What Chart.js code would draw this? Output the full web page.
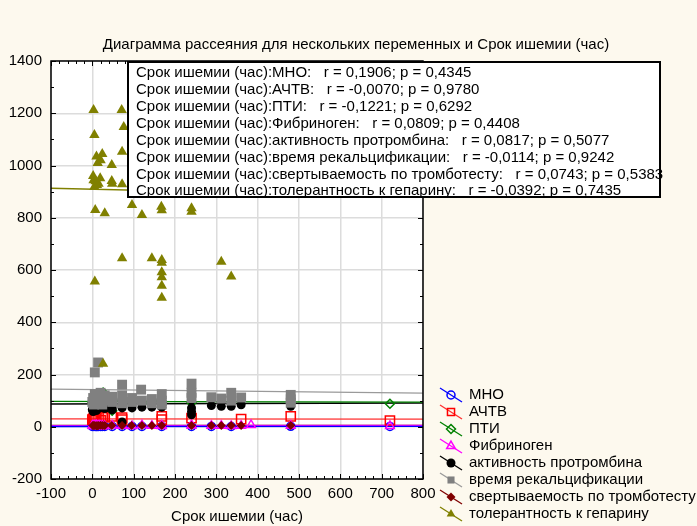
<!DOCTYPE html>
<html>
<head>
<meta charset="utf-8">
<script src="https://cdn.jsdelivr.net/npm/chart.js@4.4.1/dist/chart.umd.min.js"></script>
<style>
  html, body { margin: 0; padding: 0; background: #fdf9ee; }
  #wrap { width: 697px; height: 526px; }
</style>
</head>
<body>
<div id="wrap"><canvas id="chart" width="697" height="526"></canvas></div>
<script>
// --- data ---
const chartTitle = 'Диаграмма рассеяния для нескольких переменных и Срок ишемии (час)';
const xAxisTitle = 'Срок ишемии (час)';
const xTickValues = [-100, 0, 100, 200, 300, 400, 500, 600, 700, 800];
const yTickValues = [-200, 0, 200, 400, 600, 800, 1000, 1200, 1400];

const seriesNames = ['МНО', 'АЧТВ', 'ПТИ', 'Фибриноген', 'активность протромбина',
  'время рекальцификации', 'свертываемость по тромботесту', 'толерантность к гепарину'];
const rValues = ['0,1906', '-0,0070', '-0,1221', '0,0809', '0,0817', '-0,0114', '0,0743', '-0,0392'];
const pValues = ['0,4345', '0,9780', '0,6292', '0,4408', '0,5077', '0,9242', '0,5383', '0,7435'];

const mnoX = [0, 4, 8, 10, 12, 15, 20, 24, 30, 48, 72, 96, 120, 168, 240, 288, 336, 480, 720];
const mnoY = [1.1, 1.2, 1.0, 1.2, 1.3, 1.0, 1.1, 1.2, 1.0, 1.1, 1.4, 1.2, 1.1, 1.3, 1.2, 1.1, 1.0, 1.5, 1.3];

const achtvX = [0, 2, 4, 6, 10, 15, 20, 26, 30, 47, 72, 72, 168, 168, 240, 360, 480, 720];
const achtvY = [27, 30, 34, 27, 33, 38, 25, 40, 36, 40, 27, 35, 40, 27, 33, 29, 40, 24];

const ptiX = [0, 2, 5, 8, 10, 15, 20, 24, 26, 30, 48, 72, 96, 120, 144, 168, 240, 720];
const ptiY = [95, 85, 100, 102, 90, 105, 98, 92, 131, 96, 61, 100, 95, 90, 100, 95, 92, 88];

const fibX = [0, 2, 4, 6, 8, 10, 12, 15, 18, 20, 24, 24, 30, 48, 72, 72, 96, 120, 144, 168, 168, 240, 240, 288, 312, 336, 360, 384, 480, 720];
const fibY = [4, 3, 5, 3, 4, 6, 3, 4, 5, 3, 4, 2, 3, 5, 4, 5, 3, 6, 4, 5, 3, 5, 6, 4, 4, 3, 4, 7, 4, 3];

const protX = [0, 2, 4, 6, 8, 10, 12, 15, 18, 20, 24, 30, 48, 48, 72, 72, 72, 96, 120, 144, 168, 168, 240, 240, 240, 288, 312, 336, 360, 480, 480];
const protY = [65, 58, 75, 70, 80, 62, 85, 78, 72, 88, 75, 70, 72, 65, 72, 80, 18, 72, 75, 75, 75, 82, 72, 58, 46, 81, 78, 78, 84, 84, 78];

const recalX = [6, 14, 0, 2, 4, 6, 8, 10, 12, 15, 18, 20, 24, 24, 30, 30, 48, 48, 72, 72, 72, 96, 96, 118, 120, 144, 144, 168, 168, 168, 240, 240, 240, 288, 312, 336, 336, 360, 480, 480, 480];
const recalY = [208, 246, 95, 110, 85, 125, 100, 90, 118, 105, 95, 130, 110, 85, 100, 120, 95, 115, 161, 120, 90, 110, 95, 142, 100, 106, 90, 125, 100, 85, 165, 130, 110, 113, 108, 130, 100, 112, 122, 105, 92];

const trombX = [1, 3, 6, 10, 12, 15, 20, 25, 30, 47, 72, 95, 120, 144, 168, 240, 288, 312, 336, 360, 480];
const trombY = [5, 5, 5, 4, 4, 5, 6, 5, 5, 5, 5, 5, 5, 5, 5, 5, 5, 5, 5, 5, 5];

const hepX = [3, 71, 5, 76, 10, 24, 13, 47, 72, 3, 19, 47, 72, 11, 5, 7, 30, 96, 120, 167, 168, 240, 240, 6, 72, 144, 168, 168, 168, 168, 168, 168, 312, 336, 26, 120, 240, 288, 480, 2, 8, 15, 20, 48];
const hepY = [1212, 1212, 1117, 1147, 1034, 1044, 1010, 1002, 1053, 944, 951, 941, 928, 925, 919, 830, 817, 849, 811, 842, 829, 836, 823, 556, 645, 645, 638, 628, 591, 572, 540, 494, 632, 575, 241, 950, 1000, 920, 1050, 960, 940, 930, 1020, 930];

// regression lines: value at x = -100 and x = 800
const fitX = [-100, 800];
const fitMno = [1.0, 1.6];
const fitAchtv = [30, 29];
const fitPti = [97, 94];
const fitFib = [4, 5];
const fitProt = [87, 91];
const fitRecal = [144, 129];
const fitTromb = [5, 5.5];
const fitHep = [913, 880];

// --- styles ---
const FONT = "'Liberation Sans', Arial, sans-serif";
const styles = [
  { color: '#0000ff', line: '#0000ff', shape: 'circle', r: 4, fill: false },
  { color: '#ff0000', line: '#ff3030', shape: 'rect', r: 6.5, fill: false },
  { color: '#008000', line: '#008000', shape: 'rectRot', r: 4.5, fill: false },
  { color: '#ff00ff', line: '#ff00ff', shape: 'triangle', r: 5, fill: false },
  { color: '#000000', line: '#000000', shape: 'circle', r: 4.5, fill: true },
  { color: '#808080', line: '#9a9a9a', shape: 'rect', r: 7, fill: true },
  { color: '#800000', line: '#800000', shape: 'rectRot', r: 4.5, fill: true },
  { color: '#808000', line: '#808000', shape: 'triangle', r: 6, fill: true }
];

const seriesX = [mnoX, achtvX, ptiX, fibX, protX, recalX, trombX, hepX];
const seriesY = [mnoY, achtvY, ptiY, fibY, protY, recalY, trombY, hepY];
const fits = [fitMno, fitAchtv, fitPti, fitFib, fitProt, fitRecal, fitTromb, fitHep];

const pts = (xs, ys) => xs.map((x, i) => ({ x: x, y: ys[i] }));

const datasets = [];
seriesNames.forEach((name, i) => {
  const s = styles[i];
  // later series sit on top, like the original
  datasets.push({
    type: 'scatter',
    label: name,
    data: pts(seriesX[i], seriesY[i]),
    order: 10 - i,
    pointStyle: s.shape,
    pointRadius: s.r,
    pointHoverRadius: s.r,
    borderWidth: s.fill ? 0 : 1.5,
    borderColor: s.color,
    backgroundColor: s.fill ? s.color : 'rgba(0,0,0,0)'
  });
  datasets.push({
    type: 'line',
    label: name + ' fit',
    data: pts(fitX, fits[i]),
    order: 50 + i,
    borderColor: s.line,
    borderWidth: 1.3,
    pointRadius: 0,
    fill: false
  });
});

function drawMarker(ctx, s, x, y, r) {
  ctx.save();
  ctx.fillStyle = s.fill ? s.color : 'rgba(0,0,0,0)';
  ctx.strokeStyle = s.color;
  ctx.lineWidth = s.fill ? 0 : 1.5;
  Chart.helpers.drawPoint(ctx, { pointStyle: s.shape, radius: r, rotation: 0, borderWidth: s.fill ? 0 : 1.5 }, x, y);
  ctx.restore();
}

const decor = {
  id: 'decor',
  beforeDraw(chart) {
    const { ctx, chartArea: a } = chart;
    ctx.save();
    ctx.fillStyle = '#ffffff';
    ctx.fillRect(a.left, a.top, a.right - a.left, a.bottom - a.top);
    ctx.restore();
  },
  afterDatasetsDraw(chart) {
    const { ctx, chartArea: a, scales } = chart;
    const xs = scales.x, ys = scales.y;
    ctx.save();
    // inward tick marks on all four sides
    ctx.strokeStyle = '#000';
    ctx.lineWidth = 1;
    ctx.beginPath();
    for (let v = -100; v <= 800; v += 20) {
      const px = Math.round(xs.getPixelForValue(v)) + 0.5;
      const len = (v % 100 === 0) ? 5 : 3;
      ctx.moveTo(px, a.bottom); ctx.lineTo(px, a.bottom - len);
      ctx.moveTo(px, a.top); ctx.lineTo(px, a.top + len);
    }
    for (let v = -200; v <= 1400; v += 100) {
      const py = Math.round(ys.getPixelForValue(v)) + 0.5;
      const len = (v % 200 === 0) ? 5 : 3;
      ctx.moveTo(a.left, py); ctx.lineTo(a.left + len, py);
      ctx.moveTo(a.right, py); ctx.lineTo(a.right - len, py);
    }
    ctx.stroke();
    // frame
    ctx.lineWidth = 1.5;
    ctx.strokeRect(a.left, a.top, a.right - a.left, a.bottom - a.top);
    ctx.restore();
  },
  afterDraw(chart) {
    const { ctx, chartArea: a } = chart;
    ctx.save();

    // stats box (runs past the plot to the right)
    const bx = a.left + 77, by = a.top + 1, bw = 532, bh = 135;
    ctx.fillStyle = '#fff';
    ctx.fillRect(bx, by, bw, bh);
    ctx.lineWidth = 2;
    ctx.strokeStyle = '#000';
    ctx.strokeRect(bx, by, bw, bh);
    ctx.fillStyle = '#000';
    ctx.font = '15px ' + FONT;
    ctx.textBaseline = 'middle';
    ctx.textAlign = 'left';
    seriesNames.forEach((name, i) => {
      const txt = 'Срок ишемии (час):' + name + ':   r = ' + rValues[i] + '; p = ' + pValues[i];
      ctx.fillText(txt, bx + 8, by + 11 + i * 16.9);
    });

    ctx.textAlign = 'center';
    ctx.fillText(chartTitle, 356, 45);
    ctx.fillText(xAxisTitle, (a.left + a.right) / 2, 517);

    // legend
    ctx.textAlign = 'left';
    seriesNames.forEach((name, i) => {
      const s = styles[i];
      const cx = 451, cy = 395 + i * 17;
      ctx.strokeStyle = s.line;
      ctx.lineWidth = 1.3;
      ctx.beginPath();
      ctx.moveTo(cx - 11, cy - 7);
      ctx.lineTo(cx + 11, cy + 7);
      ctx.stroke();
      drawMarker(ctx, s, cx, cy, Math.min(s.r, 5));
      ctx.fillStyle = '#000';
      ctx.fillText(name, 469, cy);
    });
    ctx.restore();
  }
};

new Chart(document.getElementById('chart'), {
  data: { datasets: datasets },
  options: {
    responsive: false,
    animation: false,
    devicePixelRatio: 1,
    layout: { padding: { top: 61, right: 274, left: 0, bottom: 0 } },
    plugins: { legend: { display: false }, title: { display: false }, tooltip: { enabled: false } },
    scales: {
      x: {
        type: 'linear', min: -100, max: 800,
        afterBuildTicks: s => { s.ticks = xTickValues.map(v => ({ value: v })); },
        afterFit: s => { s.height = 47; },
        grid: { color: '#dcdcdc', lineWidth: 1.5, drawTicks: false },
        border: { display: false },
        ticks: { autoSkip: false, maxRotation: 0, padding: 6, color: '#000',
          font: { family: FONT, size: 15 }, callback: v => String(v) }
      },
      y: {
        type: 'linear', min: -200, max: 1400,
        afterBuildTicks: s => { s.ticks = yTickValues.map(v => ({ value: v })); },
        afterFit: s => { s.width = 51; },
        grid: { color: '#dcdcdc', lineWidth: 1.5, drawTicks: false },
        border: { display: false },
        ticks: { padding: 9, color: '#000', font: { family: FONT, size: 15 }, callback: v => String(v) }
      }
    }
  },
  plugins: [decor]
});
</script>
</body>
</html>
